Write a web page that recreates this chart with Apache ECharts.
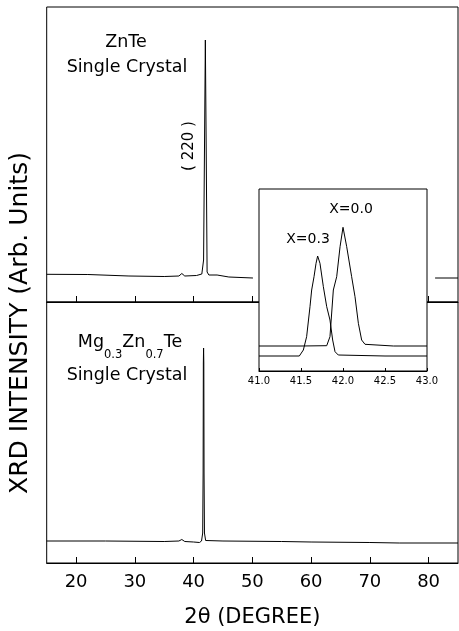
<!DOCTYPE html>
<html>
<head>
<meta charset="utf-8">
<script src="https://cdn.jsdelivr.net/npm/echarts@6/dist/echarts.min.js"></script>
<style>
html,body{margin:0;padding:0;background:#fff;}
#chart{width:459px;height:631px;}
</style>
</head>
<body>
<div id="chart"></div>
<script>
// ---- data ----
const mainTicks = [20, 30, 40, 50, 60, 70, 80];
const insetTicks = [41.0, 41.5, 42.0, 42.5, 43.0];

// ZnTe single crystal (top panel); null = hidden behind inset
const znteX = [15, 22, 29, 35, 37.5, 38, 38.5, 40.5, 41.4, 41.7, 41.85, 42.0, 42.15, 42.3, 42.6, 44, 46, 50.1, null, 81.1, 85];
const znteY = [27.7, 27.5, 26, 25.5, 26, 28.5, 26, 26.5, 28, 42, 150, 262, 150, 30, 27, 27, 25, 24, null, 24, 24];

// Mg0.3Zn0.7Te single crystal (bottom panel)
const mgX = [15, 25, 35, 37.5, 38, 38.5, 40, 41.0, 41.35, 41.55, 41.62, 41.66, 41.7, 41.74, 41.78, 41.85, 42.05, 45, 55, 60, 70, 75, 85];
const mgY = [22, 22, 21.5, 22, 23.5, 21.5, 21, 20.5, 22, 30, 90, 200, 215, 200, 90, 30, 22.5, 22, 21.5, 21, 20.5, 20, 20];

// inset: X=0.0
const x00X = [41.0, 41.5, 41.806, 41.845, 41.885, 41.925, 41.965, 42.0, 42.044, 42.103, 42.143, 42.183, 42.222, 42.262, 42.6, 43.0];
const x00Y = [25, 25, 25.3, 34.3, 81, 94.3, 124.3, 143.7, 124.3, 94.3, 74.3, 47.7, 31, 26.7, 25, 25];
// inset: X=0.3
const x03X = [41.0, 41.48, 41.528, 41.567, 41.607, 41.627, 41.655, 41.679, 41.698, 41.726, 41.766, 41.806, 41.845, 41.877, 41.905, 41.944, 42.5, 43.0];
const x03Y = [15, 15, 21, 34.3, 64.3, 81, 94.3, 107.7, 115, 107.7, 84.3, 64.3, 51, 31, 19.3, 16, 15, 15];

const zip = (xs, ys) => xs.map((x, i) => (x === null ? [null, null] : [x, ys[i]]));

const FONT = 'DejaVu Sans';
const chart = echarts.init(document.getElementById('chart'), null, {renderer: 'canvas'});

const lineSeries = (name, data, xi, yi) => ({
  name, type: 'line', data, xAxisIndex: xi, yAxisIndex: yi,
  showSymbol: false, symbol: 'none', connectNulls: false, animation: false,
  lineStyle: {color: '#000', width: 1}, z: 3
});

const mainX = (idx, showLabel, extra) => Object.assign({
  type: 'value', gridIndex: idx, min: 15, max: 85,
  axisLine: {show: true, lineStyle: {color: '#000', width: 1}},
  axisTick: {show: true, inside: true, length: 6, customValues: mainTicks, lineStyle: {color: '#000'}},
  axisLabel: {show: showLabel, customValues: mainTicks, color: '#000', fontFamily: FONT, fontSize: 18, margin: 10},
  splitLine: {show: false}
}, extra || {});

const option = {
  backgroundColor: '#fff',
  animation: false,
  grid: [
    {left: 46.7, top: 7, width: 411.3, height: 295, show: true, borderColor: '#000', borderWidth: 1, backgroundColor: 'transparent'},
    {left: 46.7, top: 302, width: 411.3, height: 261, show: true, borderColor: '#000', borderWidth: 1, backgroundColor: 'transparent'},
    {left: 259, top: 189, width: 168, height: 182, show: true, borderColor: '#000', borderWidth: 1, backgroundColor: '#fff', z: 10}
  ],
  xAxis: [
    mainX(0, false),
    mainX(1, true, {
      name: '2θ (DEGREE)', nameLocation: 'middle', nameGap: 44,
      nameTextStyle: {color: '#000', fontFamily: FONT, fontSize: 21}
    }),
    {
      type: 'value', gridIndex: 2, min: 41, max: 43, interval: 0.5, z: 10,
      axisLine: {show: true, lineStyle: {color: '#000'}},
      axisTick: {show: true, inside: true, length: 3, lineStyle: {color: '#000'}},
      axisLabel: {show: true, color: '#000', fontFamily: FONT, fontSize: 10, margin: 5,
        formatter: v => v.toFixed(1)},
      splitLine: {show: false}
    }
  ],
  yAxis: [
    {type: 'value', gridIndex: 0, min: 0, max: 295, show: false, splitLine: {show: false}},
    {type: 'value', gridIndex: 1, min: 0, max: 261, show: false, splitLine: {show: false}},
    {type: 'value', gridIndex: 2, min: 0, max: 182, show: false, splitLine: {show: false}, z: 10}
  ],
  series: [
    lineSeries('ZnTe', zip(znteX, znteY), 0, 0),
    lineSeries('Mg0.3Zn0.7Te', zip(mgX, mgY), 1, 1),
    Object.assign(lineSeries('X=0.0', zip(x00X, x00Y), 2, 2), {z: 12}),
    Object.assign(lineSeries('X=0.3', zip(x03X, x03Y), 2, 2), {z: 12})
  ],
  graphic: [
    {type: 'text', x: 20, y: 323, rotation: Math.PI / 2, z: 20,
      style: {text: 'XRD INTENSITY (Arb. Units)', fill: '#000', font: '25px "DejaVu Sans"', textAlign: 'center', textVerticalAlign: 'middle'}},
    {type: 'text', x: 126, y: 42, z: 20,
      style: {text: 'ZnTe', fill: '#000', font: '17.5px "DejaVu Sans"', textAlign: 'center', textVerticalAlign: 'middle'}},
    {type: 'text', x: 127, y: 67, z: 20,
      style: {text: 'Single Crystal', fill: '#000', font: '17.5px "DejaVu Sans"', textAlign: 'center', textVerticalAlign: 'middle'}},
    {type: 'text', x: 189, y: 146, rotation: Math.PI / 2, z: 20,
      style: {text: '( 220 )', fill: '#000', font: '15px "DejaVu Sans"', textAlign: 'center', textVerticalAlign: 'middle'}},
    {type: 'text', x: 130, y: 342, z: 20,
      style: {
        text: '{n|Mg}{s|0.3}{n|Zn}{s|0.7}{n|Te}', textAlign: 'center', textVerticalAlign: 'middle',
        rich: {
          n: {fill: '#000', fontFamily: FONT, fontSize: 17.5, lineHeight: 38},
          s: {fill: '#000', fontFamily: FONT, fontSize: 11.5, lineHeight: 38, verticalAlign: 'bottom'}
        }
      }},
    {type: 'text', x: 127, y: 375, z: 20,
      style: {text: 'Single Crystal', fill: '#000', font: '17.5px "DejaVu Sans"', textAlign: 'center', textVerticalAlign: 'middle'}},
    {type: 'text', x: 351, y: 209, z: 30,
      style: {text: 'X=0.0', fill: '#000', font: '14px "DejaVu Sans"', textAlign: 'center', textVerticalAlign: 'middle'}},
    {type: 'text', x: 308, y: 239, z: 30,
      style: {text: 'X=0.3', fill: '#000', font: '14px "DejaVu Sans"', textAlign: 'center', textVerticalAlign: 'middle'}}
  ]
};
chart.setOption(option);
</script>
</body>
</html>
